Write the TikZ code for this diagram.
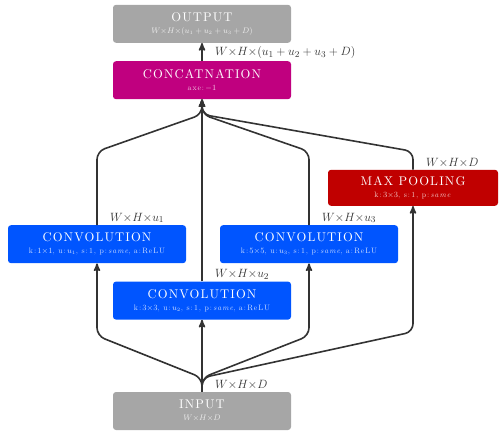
\documentclass[tikz,border=0pt]{standalone}
\usepackage{amsmath}
\usepackage{fontspec}
\usetikzlibrary{arrows,calc,positioning}

\newfontfamily\headfont{lmroman10-regular.otf}[LetterSpace=9]
\newfontfamily\notefont{lmroman10-regular.otf}[LetterSpace=12, ItalicFont=lmroman10-italic.otf]

\definecolor{iogray}{HTML}{A6A6A6}
\definecolor{catmagenta}{HTML}{C0007F}
\definecolor{convblue}{HTML}{0055FF}
\definecolor{poolred}{HTML}{C00000}
\definecolor{wire}{HTML}{333333}

\newcommand{\boxfill}{iogray}
\newcommand{\boxhead}[1]{{\headfont\fontsize{12.6}{14}\selectfont #1}}
\newcommand{\boxnote}[1]{{\notefont\fontsize{7.8}{9}\selectfont\color{white!80!\boxfill}#1}}

\begin{document}
\begin{tikzpicture}[>=stealth', x=1pt, y=1pt]

    \tikzstyle{layer}  = [rectangle, rounded corners=3pt, minimum width=178pt, minimum height=38pt, text=white, align=center, inner sep=1pt]
    \tikzstyle{tinted} = [fill=#1, execute at begin node={\def\boxfill{#1}}]
    \tikzstyle{flow}   = [->, draw=wire, line width=1.6pt, rounded corners=8pt]
    \tikzstyle{dim}    = [anchor=south west, xshift=12pt, yshift=1pt, inner sep=1pt, text=wire, font=\fontsize{12.8}{14}\selectfont]

    \useasboundingbox (0,0) rectangle (500,-433);

    \node (input)  [layer, tinted=iogray] at (202,-411)                   {\boxhead{INPUT}\\[0pt]\boxnote{$W{\times}H{\times}D$}};
    \node (conv2)  [layer, tinted=convblue, above=72pt of input]          {\boxhead{CONVOLUTION}\\[0pt]\boxnote{k:\,$3{\times}3$, u:\,$u_2$, s:\,1, p:\,\textit{same}, a:\,ReLU}};
    \node (conv1)  [layer, tinted=convblue, above=18pt of conv2, xshift=-105pt] {\boxhead{CONVOLUTION}\\[0pt]\boxnote{k:\,$1{\times}1$, u:\,$u_1$, s:\,1, p:\,\textit{same}, a:\,ReLU}};
    \node (conv3)  [layer, tinted=convblue, above=18pt of conv2, xshift=107pt]  {\boxhead{CONVOLUTION}\\[0pt]\boxnote{k:\,$5{\times}5$, u:\,$u_3$, s:\,1, p:\,\textit{same}, a:\,ReLU}};
    \node (pool)   [layer, tinted=poolred, minimum width=170pt, minimum height=36pt, above=19pt of conv3, xshift=104pt] {\boxhead{MAX POOLING}\\[0pt]\boxnote{k:\,$3{\times}3$, s:\,1, p:\,\textit{same}}};
    \node (concat) [layer, tinted=catmagenta, above=182pt of conv2]       {\boxhead{CONCATNATION}\\[0pt]\boxnote{axe:\,$-1$}};
    \node (output) [layer, tinted=iogray, above=18pt of concat]           {\boxhead{OUTPUT}\\[0pt]\boxnote{$W{\times}H{\times}(u_1+u_2+u_3+D)$}};

    \coordinate (fork)     at ($(input.north)+(0,14)$);
    \coordinate (lowbend)  at ($(input.north)+(0,56)$);
    \coordinate (poolbend) at ($(input.north)+(0,60)$);
    \coordinate (merge)    at ($(concat.south)+(0,-15)$);
    \coordinate (topbend)  at ($(concat.south)+(0,-52)$);

    % input to the four branches
    \draw[flow] (input.north) -- (fork) -- (conv1.south |- lowbend) -- (conv1.south);
    \draw[flow] (input.north) -- (conv2.south);
    \draw[flow] (input.north) -- (fork) -- (conv3.south |- lowbend) -- (conv3.south);
    \draw[flow] (input.north) -- (fork) -- (pool.south |- poolbend) -- (pool.south);

    % branches to concatenation
    \draw[flow] (conv1.north) -- (conv1.north |- topbend) -- (merge) -- (concat.south);
    \draw[flow] (conv2.north) -- (concat.south);
    \draw[flow] (conv3.north) -- (conv3.north |- topbend) -- (merge) -- (concat.south);
    \draw[flow] (pool.north) -- (pool.north |- topbend) -- (merge) -- (concat.south);
    \draw[flow] (concat.north) -- (output.south);

    \node (dimin)   [dim] at (input.north)  {$W{\times}H{\times}D$};
    \node (dimu1)   [dim] at (conv1.north)  {$W{\times}H{\times}u_1$};
    \node (dimu2)   [dim] at (conv2.north)  {$W{\times}H{\times}u_2$};
    \node (dimu3)   [dim] at (conv3.north)  {$W{\times}H{\times}u_3$};
    \node (dimpool) [dim] at (pool.north)   {$W{\times}H{\times}D$};
    \node (dimout)  [dim] at (concat.north) {$W{\times}H{\times}(u_1+u_2+u_3+D)$};

\end{tikzpicture}
\end{document}
